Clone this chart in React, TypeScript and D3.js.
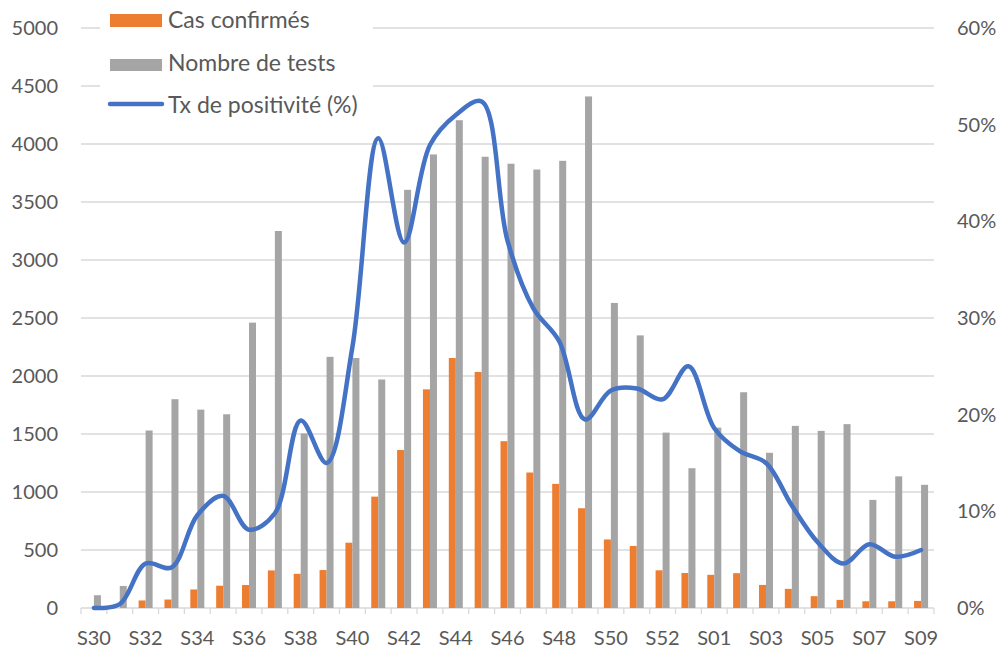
import React from 'react';
import * as d3 from 'd3';

// weeks S30 (2020) -> S09 (2021)
const weeks = [
  'S30', 'S31', 'S32', 'S33', 'S34', 'S35', 'S36', 'S37', 'S38', 'S39', 'S40', 'S41',
  'S42', 'S43', 'S44', 'S45', 'S46', 'S47', 'S48', 'S49', 'S50', 'S51', 'S52', 'S53',
  'S01', 'S02', 'S03', 'S04', 'S05', 'S06', 'S07', 'S08', 'S09',
];

const casConfirmes = [
  0, 0, 65, 73, 160, 192, 198, 324, 295, 327, 563, 960,
  1362, 1885, 2155, 2035, 1438, 1168, 1070, 860, 591, 535, 325, 302,
  286, 300, 199, 165, 102, 70, 58, 58, 61,
];

const nombreTests = [
  110, 190, 1530, 1800, 1710, 1670, 2460, 3250, 1505, 2165, 2155, 1970,
  3605, 3910, 4205, 3890, 3830, 3780, 3855, 4410, 2630, 2350, 1512, 1205,
  1555, 1860, 1338, 1570, 1527, 1585, 932, 1135, 1062,
];

// taux de positivité, en %
const txPositivite = [
  0, 0.4, 4.6, 4.2, 9.6, 11.6, 8.1, 9.8, 19.4, 15.0, 27.0, 48.6,
  37.8, 47.9, 51.0, 52.4, 38.0, 31.0, 27.6, 19.5, 22.5, 22.7, 21.6, 25.0,
  18.6, 16.2, 15.0, 10.6, 6.8, 4.6, 6.6, 5.3, 6.0,
];

const leftTicks = [0, 500, 1000, 1500, 2000, 2500, 3000, 3500, 4000, 4500, 5000];
const rightTicks = [0, 0.1, 0.2, 0.3, 0.4, 0.5, 0.6];

const W = 999;
const H = 651;
const FONT = 'Lato, "Open Sans", sans-serif';
const TXT = '#595959';

export default function App() {
  const x0 = 81, x1 = 934, y0 = 608, yTop = 28;

  const x = d3.scaleBand<string>()
    .domain(weeks)
    .range([x0, x1])
    .paddingInner(0.4584)
    .paddingOuter(0.2292);

  const xs = d3.scaleBand<string>()
    .domain(['cas', 'tests'])
    .range([0, x.bandwidth()]);

  const y = d3.scaleLinear().domain([0, 5000]).range([y0, yTop]);
  const yr = d3.scaleLinear().domain([0, 0.6]).range([y0, yTop]);

  const center = (w: string) => (x(w) as number) + x.bandwidth() / 2;

  const line = d3.line<number>()
    .x((_, i) => center(weeks[i]))
    .y((d) => yr(d / 100))
    .curve(d3.curveCatmullRom.alpha(0.5));

  const boundaries = d3.range(weeks.length + 1).map((i) => x0 + i * x.step());

  return (
    <svg width={W} height={H} style={{ position: 'absolute', left: 0, top: 0 }}
      fontFamily={FONT}>
      <rect width={W} height={H} fill="#fff" />

      {/* gridlines */}
      {leftTicks.map((t) => (
        <line key={t} x1={x0} x2={x1} y1={y(t)} y2={y(t)} stroke="#d9d9d9" strokeWidth={1.3} />
      ))}

      {/* x axis ticks */}
      {boundaries.map((b, i) => (
        <line key={i} x1={b} x2={b} y1={y0} y2={y0 + 6} stroke="#d9d9d9" strokeWidth={1.3} />
      ))}

      {/* bars */}
      {weeks.map((w, i) => (
        <g key={w} transform={`translate(${x(w)},0)`}>
          <rect x={xs('cas')} y={y(casConfirmes[i])} width={xs.bandwidth()}
            height={y0 - y(casConfirmes[i])} fill="#ed7d31" />
          <rect x={xs('tests')} y={y(nombreTests[i])} width={xs.bandwidth()}
            height={y0 - y(nombreTests[i])} fill="#a5a5a5" />
        </g>
      ))}

      {/* positivity line */}
      <path d={line(txPositivite) || ''} fill="none" stroke="#4472c4" strokeWidth={4.5}
        strokeLinecap="round" strokeLinejoin="round" />

      {/* left axis labels */}
      {leftTicks.map((t) => (
        <text key={t} x={58} y={y(t) + 7} textAnchor="end" fontSize={20} fill={TXT}>{t}</text>
      ))}

      {/* right axis labels */}
      {rightTicks.map((t) => (
        <text key={t} x={957} y={yr(t) + 7} fontSize={20} fill={TXT}>{d3.format('.0%')(t)}</text>
      ))}

      {/* x labels, every other week */}
      {weeks.map((w, i) => i % 2 === 0 ? (
        <text key={w} x={center(w)} y={645} textAnchor="middle" fontSize={20} fill={TXT}>{w}</text>
      ) : null)}

      {/* legend */}
      <rect x={100} y={0} width={273} height={124} fill="#fff" />
      <rect x={110} y={14} width={52} height={13} fill="#ed7d31" />
      <text x={168} y={28} fontSize={23} fill={TXT}>Cas confirmés</text>
      <rect x={110} y={59} width={52} height={12} fill="#a5a5a5" />
      <text x={168} y={71} fontSize={23} fill={TXT}>Nombre de tests</text>
      <line x1={110} x2={162} y1={104} y2={104} stroke="#4472c4" strokeWidth={4.5} strokeLinecap="round" />
      <text x={168} y={113} fontSize={23} fill={TXT}>Tx de positivité (%)</text>
    </svg>
  );
}
